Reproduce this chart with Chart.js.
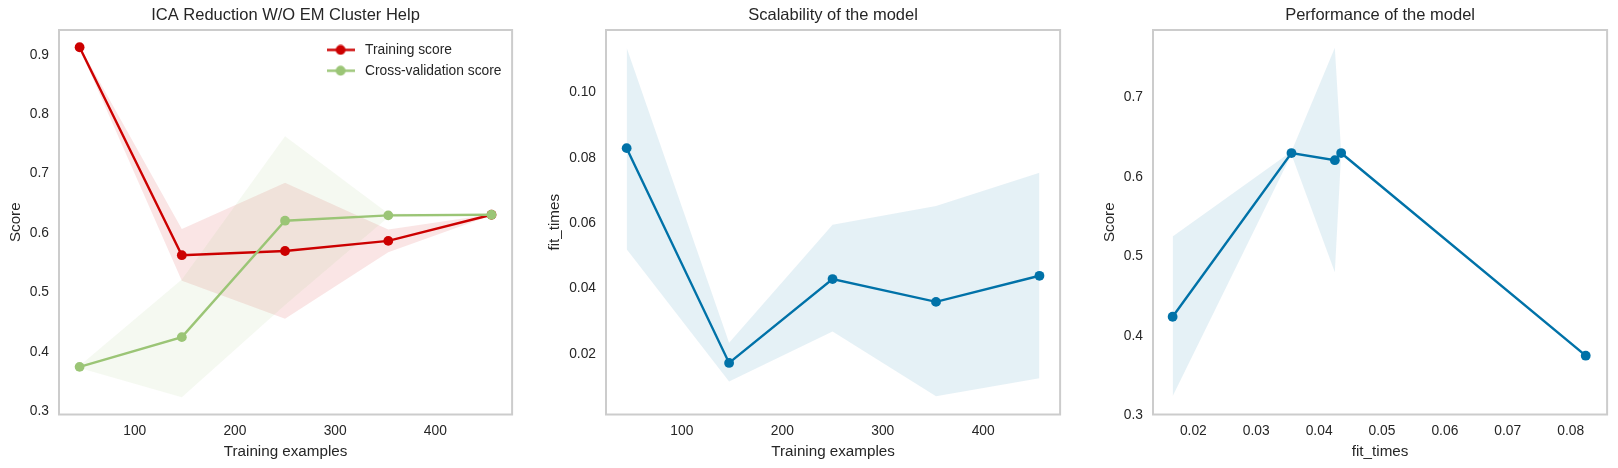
<!DOCTYPE html>
<html><head><meta charset="utf-8">
<style>html,body{margin:0;padding:0;background:#fff;width:1618px;height:468px;overflow:hidden}canvas{position:absolute;top:0}</style>
<script src="https://cdn.jsdelivr.net/npm/chart.js@4"></script>
</head><body>
<canvas id="c1"></canvas><canvas id="c2"></canvas><canvas id="c3"></canvas>
<script>
const trainSizes=[45,147,250,353,456];
const trainScore=[0.911,0.561,0.568,0.585,0.629];
const trainUpper=[0.913,0.605,0.683,0.604,0.630];
const trainLower=[0.909,0.518,0.454,0.566,0.628];
const cvScore=[0.373,0.423,0.619,0.628,0.629];
const cvUpper=[0.375,0.520,0.761,0.631,0.630];
const cvLower=[0.371,0.322,0.477,0.625,0.628];
const fitTimes=[0.0827,0.0169,0.0426,0.0356,0.0436];
const fitUpper=[0.1135,0.0231,0.0592,0.0650,0.0752];
const fitLower=[0.0517,0.0112,0.0265,0.0067,0.0122];
const perfTimes=[0.0167,0.0356,0.0425,0.0435,0.0824];
const perfScore=[0.423,0.629,0.620,0.629,0.374];
const perfUpper=[0.524,0.631,0.7616,0.631,0.376];
const perfLower=[0.323,0.627,0.479,0.627,0.372];
const scoreTicks=[0.3,0.4,0.5,0.6,0.7,0.8,0.9];
const fitTicks=[0.02,0.04,0.06,0.08,0.10];
const sizeTicks=[100,200,300,400];
const perfYTicks=[0.3,0.4,0.5,0.6,0.7];
const perfXTicks=[0.02,0.03,0.04,0.05,0.06,0.07,0.08];

const RED='#cc0000',GREEN='#9bc576',BLUE='#0072a8',TXT='#262626',FONT='"Liberation Sans",Arial,sans-serif';
Chart.defaults.font.family=FONT;Chart.defaults.color=TXT;Chart.defaults.animation=false;

const pts=(xs,ys)=>xs.map((x,i)=>({x,y:ys[i]}));
function rgba(hex,a){const n=parseInt(hex.slice(1),16);return `rgba(${n>>16},${(n>>8)&255},${n&255},${a})`}
function lineDs(label,xs,ys,color,order){return{label,data:pts(xs,ys),borderColor:color,backgroundColor:color,borderWidth:2.4,pointRadius:4.9,pointHoverRadius:4.9,pointBorderWidth:0,tension:0,fill:false,order,clip:false}}
function bandDs(tag,xs,up,lo,color,idx,order){return[
 {label:tag+' upper',data:pts(xs,up),borderWidth:0,pointRadius:0,tension:0,fill:{target:idx+1},backgroundColor:rgba(color,0.1),order},
 {label:tag+' lower',data:pts(xs,lo),borderWidth:0,pointRadius:0,tension:0,fill:false,order}]}
function handle(color){const c=document.createElement('canvas');c.width=28;c.height=11;const g=c.getContext('2d');g.strokeStyle=color;g.lineWidth=2.4;g.beginPath();g.moveTo(0,5.5);g.lineTo(28,5.5);g.stroke();g.fillStyle=color;g.beginPath();g.arc(14,5.5,4.9,0,7);g.fill();return c}

const frame={id:'frame',afterDraw(ch){const a=ch.chartArea,g=ch.ctx;g.save();g.strokeStyle='#cccccc';g.lineWidth=2;g.strokeRect(a.left,a.top,a.right-a.left,a.bottom-a.top);g.restore()}};
const moveLegend={id:'moveLegend',beforeDraw(ch){const l=ch.options.plugins.legend;if(!l.display)return;const b=ch.legend,w=b.right-b.left;b.left=ch.chartArea.right-l.insetRight;b.right=b.left+w;b.top=ch.chartArea.top+l.insetTop;}};

function make(id,cfg){
 const cv=document.getElementById(id);
 cv.style.left=(cfg.frameL-cfg.yW)+'px';
 cv.width=cfg.yW+cfg.frameW+3;cv.height=468;cv.style.width=cv.width+'px';cv.style.height='468px';
 return new Chart(cv,{type:'line',data:{datasets:cfg.datasets},plugins:[frame,moveLegend],options:{
  responsive:false,animation:false,
  layout:{padding:{right:3,left:0,top:0,bottom:0}},
  plugins:{
   title:{display:true,text:cfg.title,fullSize:false,color:TXT,font:{size:16.5,weight:'normal'},padding:{top:6,bottom:4.2}},
   tooltip:{enabled:false},
   legend:{display:!!cfg.legend,position:'chartArea',align:'start',insetRight:196,insetTop:6,
    labels:{usePointStyle:true,pointStyleWidth:35,boxHeight:13,font:{size:13.8},color:TXT,padding:7,
     sort:(a,b)=>a.datasetIndex-b.datasetIndex,
     generateLabels(ch){const base=Chart.defaults.plugins.legend.labels.generateLabels(ch).filter(i=>!/upper|lower/.test(i.text));
      base.forEach(i=>{i.pointStyle=handle(i.strokeStyle)});return base}}}
  },
  scales:{
   x:{type:'linear',min:cfg.xMin,max:cfg.xMax,grid:{display:false,drawTicks:false},border:{display:false},
    afterBuildTicks(a){a.ticks=cfg.xTicks.map(value=>({value}))},afterFit(a){a.height=53.5},
    ticks:{autoSkip:false,maxRotation:0,padding:8.5,font:{size:13.8},color:TXT,callback:v=>v.toFixed(cfg.xDec)},
    title:{display:true,text:cfg.xLabel,font:{size:15.2},color:TXT,padding:{top:0,bottom:7}}},
   y:{type:'linear',min:cfg.yMin,max:cfg.yMax,grid:{display:false,drawTicks:false},border:{display:false},
    afterBuildTicks(a){a.ticks=cfg.yTicks.map(value=>({value}))},afterFit(a){a.width=cfg.yW},
    ticks:{autoSkip:false,padding:10,labelOffset:1,font:{size:13.8},color:TXT,callback:v=>v.toFixed(cfg.yDec)},
    title:{display:true,text:cfg.yLabel,font:{size:15.2},color:TXT,padding:{top:7,bottom:0}}}
  }}});
}

make('c1',{frameL:59,frameW:455.5,yW:59,title:'ICA Reduction W/O EM Cluster Help',legend:true,
 xMin:24.45,xMax:476.55,yMin:0.2928,yMax:0.94,xTicks:sizeTicks,yTicks:scoreTicks,xDec:0,yDec:1,xLabel:'Training examples',yLabel:'Score',
 datasets:[lineDs('Training score',trainSizes,trainScore,RED,2),lineDs('Cross-validation score',trainSizes,cvScore,GREEN,1),
  ...bandDs('train',trainSizes,trainUpper,trainLower,RED,2,4),...bandDs('cv',trainSizes,cvUpper,cvLower,GREEN,4,3)]});
make('c2',{frameL:606,frameW:456,yW:67,title:'Scalability of the model',
 xMin:24.45,xMax:476.55,yMin:0.0011,yMax:0.1189,xTicks:sizeTicks,yTicks:fitTicks,xDec:0,yDec:2,xLabel:'Training examples',yLabel:'fit_times',
 datasets:[lineDs('fit_times',trainSizes,fitTimes,BLUE,1),...bandDs('fit',trainSizes,fitUpper,fitLower,BLUE,1,2)]});
make('c3',{frameL:1153,frameW:456.5,yW:59,title:'Performance of the model',
 xMin:0.01358,xMax:0.0858,yMin:0.3,yMax:0.7838,xTicks:perfXTicks,yTicks:perfYTicks,xDec:2,yDec:1,xLabel:'fit_times',yLabel:'Score',
 datasets:[lineDs('Score',perfTimes,perfScore,BLUE,1),...bandDs('perf',perfTimes,perfUpper,perfLower,BLUE,1,2)]});
</script>
</body></html>
